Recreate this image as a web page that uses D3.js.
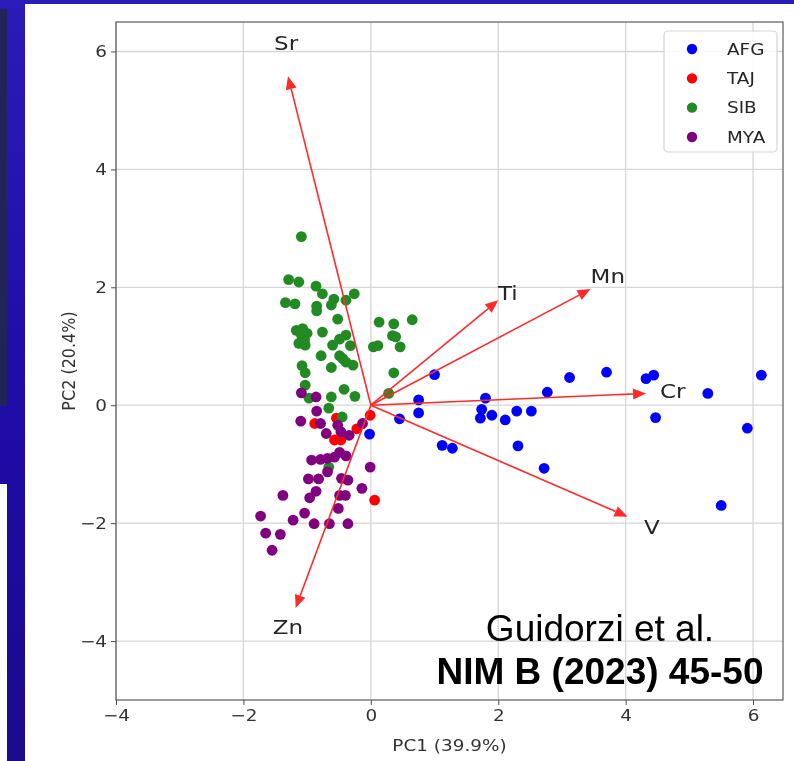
<!DOCTYPE html>
<html><head><meta charset="utf-8">
<script src="https://cdn.jsdelivr.net/npm/d3@7"></script>
<style>body{margin:0;background:#fff}svg{display:block}</style>
</head><body>
<svg id="c" width="794" height="761"></svg>
<script>
// ---------------- DATA ----------------
const groups = ["AFG", "TAJ", "SIB", "MYA"];
const groupColors = ["#0000ff", "#ff0000", "#238a23", "#800080"];

const afgX = [1.00, 0.75, 0.75, 0.45, -0.02, 1.12, 1.28, 1.80, 1.74, 1.72, 1.90, 2.11, 2.29, 2.52, 2.31, 2.72, 2.77, 3.12, 3.70, 4.32, 4.44, 4.47, 5.29, 5.91, 5.50, 6.13];
const afgY = [0.52, 0.09, -0.13, -0.23, -0.49, -0.68, -0.73, 0.12, -0.07, -0.22, -0.17, -0.25, -0.10, -0.10, -0.69, -1.07, 0.22, 0.47, 0.56, 0.45, 0.51, -0.21, 0.20, -0.39, -1.70, 0.51];

const tajX = [-0.88, -0.54, -0.57, -0.47, -0.22, -0.01, 0.06];
const tajY = [-0.31, -0.22, -0.59, -0.59, -0.40, -0.17, -1.61];

const sibX = [-1.09, -1.29, -1.13, -0.86, -0.76, -0.26, -1.34, -1.19, -0.58, -0.62, -0.39, -0.85, -0.85, -0.52, 0.13, 0.36, 0.65, -1.17, -1.07, -1.09, -1.00, -1.13, -1.03, -1.04, -0.76, 0.34, 0.46, 0.04, 0.11, -0.39, -0.49, -0.60, -0.32, -0.78, -0.62, -0.49, -0.44, -0.39, -0.28, -1.08, -1.03, 0.36, -1.03, -0.42, -0.25, -0.62, 0.28, -0.97, -0.66, -0.45, -0.66, 0.39];
const sibY = [2.86, 2.13, 2.09, 2.02, 1.89, 1.89, 1.74, 1.72, 1.80, 1.70, 1.78, 1.68, 1.60, 1.46, 1.41, 1.38, 1.45, 1.27, 1.30, 1.19, 1.22, 1.05, 1.02, 1.11, 1.24, 1.18, 0.99, 0.99, 1.01, 1.19, 1.12, 1.02, 1.01, 0.84, 0.64, 0.84, 0.79, 0.73, 0.68, 0.67, 0.55, 0.55, 0.34, 0.27, 0.15, 0.14, 0.20, 0.12, -0.05, -0.20, -1.05, 1.16];

const myaX = [-1.09, -0.86, -0.85, -1.10, -0.79, -0.52, -0.47, -0.70, -0.34, -0.13, -0.93, -0.79, -0.68, -0.57, -0.49, -0.39, -0.68, -0.01, -0.98, -0.82, -0.46, -0.36, -0.14, -1.38, -0.86, -0.96, -0.49, -0.40, -0.51, -1.04, -1.22, -1.73, -0.89, -0.65, -0.36, -1.65, -1.42, -1.55];
const myaY = [0.21, 0.14, -0.10, -0.27, -0.31, -0.34, -0.45, -0.48, -0.51, -0.31, -0.93, -0.92, -0.90, -0.88, -0.80, -0.86, -1.13, -1.05, -1.25, -1.25, -1.24, -1.27, -1.41, -1.53, -1.46, -1.57, -1.53, -1.53, -1.75, -1.83, -1.95, -1.88, -2.01, -2.01, -2.01, -2.17, -2.19, -2.46];

const loadNames = ["Sr", "Ti", "Mn", "Cr", "V", "Zn"];
const loadX = [-1.30, 2.00, 3.45, 4.32, 4.03, -1.18];
const loadY = [5.58, 1.78, 1.97, 0.20, -1.89, -3.44];
const loadLabelX = [-1.33, 2.15, 3.72, 4.74, 4.41, -1.30];
const loadLabelY = [6.15, 1.90, 2.19, 0.24, -2.07, -3.75];

const xTicks = [-4, -2, 0, 2, 4, 6];
const yTicks = [-4, -2, 0, 2, 4, 6];
const xDomain = [-4, 6.47];
const yDomain = [-5, 6.5];
const xLabel = "PC1 (39.9%)";
const yLabel = "PC2 (20.4%)";
const noteLine1 = "Guidorzi et al.";
const noteLine2 = "NIM B (2023) 45-50";

// ---------------- DRAW ----------------
const W = 794, H = 761;
const SX = 1.15; // horizontal stretch of the pasted figure's text
const FONT = "'DejaVu Sans', sans-serif";
const svg = d3.select("#c");
const defs = svg.append("defs");
const grad = defs.append("linearGradient").attr("id", "bg").attr("x1", 0).attr("y1", 0).attr("x2", 0).attr("y2", 1);
grad.append("stop").attr("offset", "0%").attr("stop-color", "#2a1cb8");
grad.append("stop").attr("offset", "55%").attr("stop-color", "#1f0ba6");
grad.append("stop").attr("offset", "100%").attr("stop-color", "#1b0a8c");
defs.append("filter").attr("id", "soft").attr("x", "-5%").attr("y", "-5%").attr("width", "110%").attr("height", "110%")
  .append("feGaussianBlur").attr("stdDeviation", 0.45);

svg.append("rect").attr("width", W).attr("height", H).attr("fill", "url(#bg)");
svg.append("rect").attr("x", 0).attr("y", 9).attr("width", 7).attr("height", 397).attr("fill", "#23235c");
svg.append("rect").attr("x", 0).attr("y", 484).attr("width", 7).attr("height", H - 484).attr("fill", "#ffffff");
svg.append("rect").attr("x", 25).attr("y", 4).attr("width", W - 25).attr("height", H - 4).attr("fill", "#ffffff");

const x = d3.scaleLinear().domain(xDomain).range([116, 783]);
const y = d3.scaleLinear().domain(yDomain).range([700, 22]);
const [x0, x1] = x.range();
const [y0, y1] = y.range();

const plot = svg.append("g").attr("filter", "url(#soft)");

// grid
plot.append("g").selectAll("line").data(xTicks).join("line")
  .attr("x1", d => x(d)).attr("x2", d => x(d)).attr("y1", y1).attr("y2", y0)
  .attr("stroke", "#d6d6d6").attr("stroke-width", 1.3);
plot.append("g").selectAll("line").data(yTicks).join("line")
  .attr("y1", d => y(d)).attr("y2", d => y(d)).attr("x1", x0).attr("x2", x1)
  .attr("stroke", "#d6d6d6").attr("stroke-width", 1.3);

// points
const series = [[afgX, afgY], [tajX, tajY], [sibX, sibY], [myaX, myaY]];
series.forEach(([xs, ys], gi) => {
  plot.append("g").selectAll("circle").data(xs.map((v, i) => [v, ys[i]])).join("circle")
    .attr("cx", d => x(d[0])).attr("cy", d => y(d[1])).attr("r", 5.4)
    .attr("fill", groupColors[gi]);
});

// arrows
const ox = x(0), oy = y(0);
const HL = 13, HW = 11;
loadNames.forEach((n, i) => {
  const px = x(loadX[i]), py = y(loadY[i]);
  const dx = px - ox, dy = py - oy, L = Math.hypot(dx, dy);
  const ux = dx / L, uy = dy / L;
  const bx = px - ux * HL, by = py - uy * HL;
  const nx = -uy, ny = ux;
  plot.append("line").attr("x1", ox).attr("y1", oy).attr("x2", bx).attr("y2", by)
    .attr("stroke", "#ff2a2a").attr("stroke-width", 1.6);
  plot.append("polygon")
    .attr("points", [[px, py], [bx + nx * HW / 2, by + ny * HW / 2], [bx - nx * HW / 2, by - ny * HW / 2]].map(p => p.join(",")).join(" "))
    .attr("fill", "#ff2a2a");
  plot.append("text")
    .attr("transform", `translate(${x(loadLabelX[i])},${y(loadLabelY[i])}) scale(${SX},1)`)
    .attr("text-anchor", "middle").attr("dy", "0.36em")
    .attr("font-family", FONT).attr("font-size", 20).attr("fill", "#262626")
    .text(n);
});

// frame
plot.append("rect").attr("x", x0).attr("y", y1).attr("width", x1 - x0).attr("height", y0 - y1)
  .attr("fill", "none").attr("stroke", "#4d4d4d").attr("stroke-width", 1.1);

// axes
const gx = plot.append("g").attr("transform", `translate(0,${y0})`)
  .call(d3.axisBottom(x).tickValues(xTicks).tickSize(5).tickPadding(5));
gx.select(".domain").remove();
gx.selectAll(".tick line").attr("stroke", "#4d4d4d");
gx.selectAll(".tick text").attr("font-family", FONT).attr("font-size", 16).attr("fill", "#333")
  .attr("transform", `scale(${SX},1)`);

const gy = plot.append("g").attr("transform", `translate(${x0},0)`)
  .call(d3.axisLeft(y).tickValues(yTicks).tickSize(5).tickPadding(4));
gy.select(".domain").remove();
gy.selectAll(".tick line").attr("stroke", "#4d4d4d");
gy.selectAll(".tick text").attr("font-family", FONT).attr("font-size", 16).attr("fill", "#333")
  .attr("x", -9 / SX).attr("transform", `scale(${SX},1)`);

plot.append("text").attr("transform", `translate(${(x0 + x1) / 2},745) scale(${SX},1)`)
  .attr("text-anchor", "middle").attr("dy", "0.36em")
  .attr("font-family", FONT).attr("font-size", 16).attr("fill", "#333").text(xLabel);
plot.append("text").attr("transform", `translate(68,${(y0 + y1) / 2}) rotate(-90) scale(1,${SX})`)
  .attr("text-anchor", "middle").attr("dy", "0.36em")
  .attr("font-family", FONT).attr("font-size", 16).attr("fill", "#333").text(yLabel);

// legend
const lg = plot.append("g");
lg.append("rect").attr("x", 664).attr("y", 31).attr("width", 113).attr("height", 121).attr("rx", 4)
  .attr("fill", "#fff").attr("fill-opacity", 0.85).attr("stroke", "#d4d4d4").attr("stroke-width", 1.2);
const ly = d3.scalePoint().domain(groups).range([49, 137]);
groups.forEach((g, i) => {
  lg.append("circle").attr("cx", 692).attr("cy", ly(g)).attr("r", 5.2).attr("fill", groupColors[i]);
  lg.append("text").attr("transform", `translate(727,${ly(g)}) scale(${SX},1)`)
    .attr("dy", "0.36em").attr("font-family", FONT).attr("font-size", 16).attr("fill", "#262626").text(g);
});

// slide annotation
svg.append("text").attr("x", 600).attr("y", 641).attr("text-anchor", "middle")
  .attr("font-family", "'Liberation Sans', Arial, sans-serif").attr("font-size", 37).attr("fill", "#000")
  .text(noteLine1);
svg.append("text").attr("x", 600).attr("y", 684).attr("text-anchor", "middle")
  .attr("font-family", "'Liberation Sans', Arial, sans-serif").attr("font-weight", "bold").attr("font-size", 37).attr("fill", "#000")
  .text(noteLine2);
</script>
</body></html>
